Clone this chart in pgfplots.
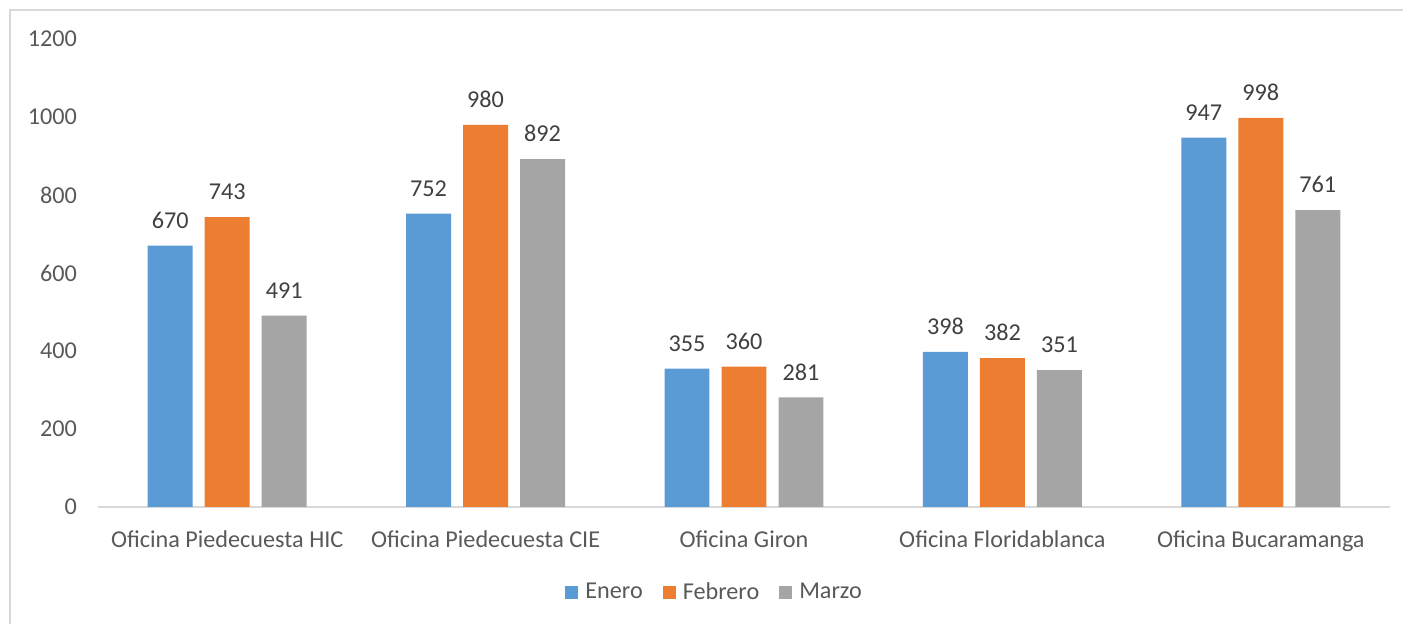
\documentclass[border=0pt]{standalone}
\usepackage{fontspec}
\setmainfont{Carlito}
\usepackage{pgfplots}
\pgfplotsset{compat=1.18}
\definecolor{cblue}{HTML}{5B9BD5}
\definecolor{corange}{HTML}{ED7D31}
\definecolor{cgray}{HTML}{A5A5A5}
\definecolor{ctext}{HTML}{595959}
\definecolor{clabel}{HTML}{404040}
\definecolor{cline}{HTML}{D9D9D9}
\begin{document}
\begin{tikzpicture}
\useasboundingbox (0pt,0pt) rectangle (701.5pt,-312pt);
\draw[cline, line width=0.8pt] (5pt,-330pt) -- (5pt,-5pt) -- (720pt,-5pt);
\begin{axis}[
  at={(49pt,-253.5pt)}, anchor=south west,
  scale only axis, width=646pt, height=234pt,
  xmin=-0.5, xmax=4.5, ymin=0, ymax=1200,
  axis x line*=bottom, axis y line*=left,
  x axis line style={draw=cline, line width=0.8pt},
  y axis line style={draw=none},
  major tick length=0pt,
  xtick={0,1,2,3,4},
  xticklabels={Oficina Piedecuesta HIC, Oficina Piedecuesta CIE, Oficina Giron, Oficina Floridablanca, Oficina Bucaramanga},
  ytick={0,200,...,1200},
  /pgf/number format/assume math mode=true,
  /pgf/number format/1000 sep={},
  tick label style={font=\fontsize{12.1}{14}\selectfont, text=ctext},
  xticklabel style={yshift=-8.5pt},
  yticklabel style={xshift=-7pt},
  ybar, bar width=0.174,
  nodes near coords,
  every node near coord/.append style={font=\fontsize{12.1}{14}\selectfont, text=clabel, yshift=5pt},
  legend style={at={(0.478,-0.182)}, anchor=center, draw=none, legend columns=3,
    font=\fontsize{12.1}{14}\selectfont, text=ctext,
    /tikz/every odd column/.append style={column sep=1.5pt},
    /tikz/every even column/.append style={column sep=8pt}},
  legend cell align=left,
  legend image code/.code={\fill[#1] (0pt,-3.25pt) rectangle (6.5pt,3.25pt);},
]
\addplot[fill=cblue, draw=none, bar shift=-0.2206] coordinates {(0,670) (1,752) (2,355) (3,398) (4,947)};
\addplot[fill=corange, draw=none, bar shift=0] coordinates {(0,743) (1,980) (2,360) (3,382) (4,998)};
\addplot[fill=cgray, draw=none, bar shift=0.2206] coordinates {(0,491) (1,892) (2,281) (3,351) (4,761)};
\legend{Enero, Febrero, Marzo}
\end{axis}
\end{tikzpicture}
\end{document}
